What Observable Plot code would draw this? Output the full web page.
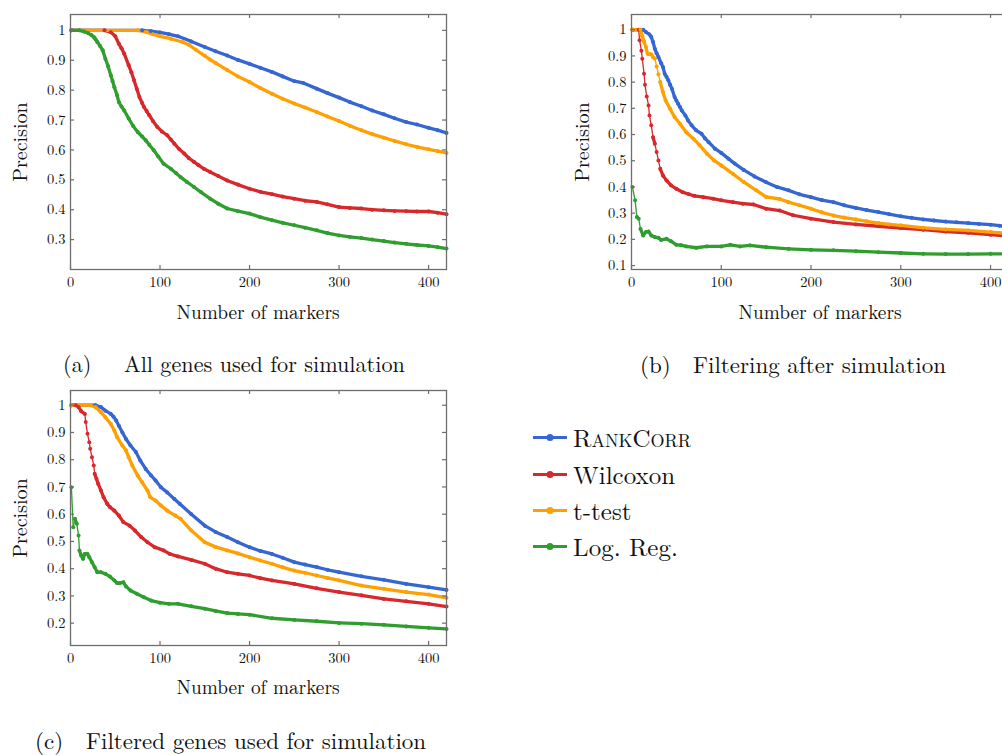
<!DOCTYPE html>
<html><head><meta charset="utf-8">
<script src="https://cdn.jsdelivr.net/npm/d3@7"></script>
<script src="https://cdn.jsdelivr.net/npm/@observablehq/plot@0.6"></script>
<style>
html,body{margin:0;padding:0;overflow:hidden;background:#fff;}
#root{position:relative;width:1002px;height:755px;font-family:"Latin Modern Roman","CMU Serif","Liberation Serif","DejaVu Serif","Tinos","Times New Roman","Times","Noto Serif","FreeSerif","Nimbus Roman",serif;color:#111;overflow:hidden;}
.panel{position:absolute;}
.lbl{position:absolute;white-space:nowrap;font-size:19.3px;line-height:1;transform:translate(-50%,-50%);}
.ylbl{font-size:20px;transform:translate(-50%,-50%) rotate(-90deg);}
.cap{position:absolute;white-space:nowrap;font-size:23px;line-height:1;transform:translateY(-50%);}
.leg{position:absolute;left:531px;white-space:nowrap;font-size:25px;line-height:1;display:flex;align-items:center;transform:translateY(-50%);}
.leg svg{margin-right:4px;}
</style>
</head><body><div id="root"></div>
<script>
const methods = ["RankCorr", "Wilcoxon", "t-test", "Log. Reg."];
const colors = ["#3566d2", "#d7282c", "#ffa000", "#2f9e2f"];
const xTicks = [0, 100, 200, 300, 400];
const serifStack = "'Latin Modern Roman','CMU Serif','Liberation Serif','DejaVu Serif','Tinos','Times New Roman','Times','Noto Serif','FreeSerif','Nimbus Roman',serif";

// (a) All genes used for simulation
const aRankCorr = [[1,1],[80,1],[90,0.997],[100,0.993],[110,0.987],[120,0.98],[135,0.963],[150,0.944],[162,0.93],[175,0.916],[187,0.901],[200,0.888],[212,0.875],[225,0.861],[237,0.846],[250,0.83],[260,0.824],[275,0.805],[287,0.79],[300,0.775],[312,0.76],[325,0.746],[337,0.732],[350,0.719],[362,0.706],[375,0.693],[387,0.685],[400,0.674],[410,0.666],[420,0.657]];
const aWilcoxon = [[1,1],[38,1],[45,0.994],[50,0.98],[54,0.955],[57,0.94],[60,0.922],[65,0.883],[68,0.86],[71,0.833],[74,0.805],[77,0.777],[80,0.757],[82,0.744],[85,0.73],[88,0.716],[92,0.697],[97,0.677],[102,0.662],[108,0.649],[112,0.635],[116,0.621],[121,0.604],[127,0.588],[132,0.573],[138,0.56],[143,0.549],[149,0.537],[156,0.526],[165,0.513],[175,0.498],[187,0.484],[200,0.47],[212,0.46],[225,0.452],[237,0.444],[250,0.437],[262,0.43],[275,0.426],[287,0.418],[300,0.409],[312,0.406],[325,0.404],[337,0.4],[350,0.398],[362,0.396],[375,0.395],[387,0.394],[400,0.394],[410,0.39],[420,0.385]];
const aTtest = [[1,1],[75,1],[85,0.994],[92,0.987],[100,0.98],[112,0.972],[125,0.961],[132,0.952],[140,0.935],[150,0.915],[156,0.902],[162,0.891],[175,0.867],[187,0.846],[200,0.827],[212,0.807],[225,0.788],[237,0.771],[250,0.755],[262,0.742],[275,0.727],[287,0.712],[300,0.697],[312,0.681],[325,0.666],[337,0.653],[350,0.641],[362,0.63],[375,0.619],[387,0.61],[400,0.602],[410,0.596],[420,0.59]];
const aLogReg = [[1,1],[10,1],[15,0.996],[20,0.99],[23,0.985],[26,0.978],[28,0.97],[30,0.961],[33,0.948],[36,0.933],[39,0.905],[42,0.88],[45,0.85],[47,0.83],[49,0.81],[52,0.783],[54,0.76],[57,0.745],[60,0.732],[65,0.705],[70,0.68],[75,0.66],[80,0.645],[84,0.632],[88,0.617],[93,0.599],[98,0.578],[104,0.554],[112,0.537],[118,0.522],[123,0.509],[130,0.493],[138,0.476],[146,0.458],[156,0.437],[165,0.42],[175,0.404],[187,0.395],[200,0.387],[212,0.375],[225,0.365],[237,0.356],[250,0.348],[262,0.34],[275,0.331],[287,0.322],[300,0.314],[312,0.309],[325,0.305],[337,0.3],[350,0.295],[362,0.29],[375,0.286],[387,0.282],[400,0.279],[410,0.275],[420,0.27]];

// (b) Filtering after simulation
const bRankCorr = [[1,1],[13,1],[16,0.991],[20,0.982],[22,0.972],[24,0.953],[26,0.927],[28,0.91],[30,0.896],[33,0.872],[35,0.858],[37,0.832],[39,0.82],[41,0.807],[43,0.79],[45,0.775],[48,0.743],[50,0.73],[52,0.717],[54,0.705],[56,0.692],[60,0.673],[63,0.654],[67,0.635],[72,0.616],[78,0.603],[82,0.585],[86,0.571],[93,0.546],[100,0.53],[108,0.508],[115,0.489],[125,0.465],[137,0.44],[150,0.418],[162,0.4],[175,0.387],[187,0.372],[200,0.361],[212,0.35],[225,0.342],[237,0.33],[250,0.32],[262,0.312],[275,0.304],[287,0.296],[300,0.288],[312,0.282],[325,0.276],[337,0.272],[350,0.268],[362,0.265],[375,0.262],[387,0.259],[400,0.256],[410,0.252],[420,0.248]];
const bWilcoxon = [[1,1],[8,1],[9,0.96],[11,0.92],[12,0.889],[14,0.832],[15,0.79],[17,0.745],[19,0.711],[20,0.673],[22,0.635],[24,0.59],[26,0.565],[28,0.533],[30,0.501],[32,0.469],[35,0.444],[39,0.425],[44,0.406],[50,0.393],[57,0.38],[64,0.372],[70,0.366],[80,0.361],[91,0.355],[100,0.349],[113,0.342],[124,0.336],[136,0.333],[150,0.317],[165,0.31],[180,0.292],[200,0.279],[225,0.266],[250,0.257],[275,0.25],[300,0.243],[325,0.237],[350,0.23],[375,0.225],[400,0.218],[420,0.212]];
const bTtest = [[1,1],[10,1],[12,0.975],[14,0.955],[16,0.934],[18,0.908],[20,0.906],[22,0.906],[24,0.895],[26,0.89],[28,0.86],[30,0.83],[32,0.8],[35,0.762],[38,0.73],[43,0.698],[48,0.667],[54,0.641],[61,0.609],[69,0.584],[76,0.559],[84,0.527],[92,0.501],[100,0.482],[113,0.45],[125,0.419],[139,0.387],[150,0.362],[165,0.354],[175,0.342],[187,0.33],[200,0.317],[212,0.303],[225,0.291],[237,0.283],[250,0.276],[262,0.269],[275,0.262],[287,0.257],[300,0.253],[325,0.244],[350,0.238],[375,0.234],[400,0.228],[420,0.222]];
const bLogReg = [[1,0.4],[4,0.349],[6,0.285],[8,0.279],[10,0.24],[13,0.215],[16,0.228],[19,0.23],[22,0.215],[26,0.209],[30,0.206],[33,0.198],[39,0.202],[44,0.193],[50,0.179],[55,0.178],[61,0.173],[72,0.168],[84,0.173],[100,0.173],[110,0.179],[121,0.173],[132,0.177],[150,0.17],[175,0.164],[200,0.16],[225,0.158],[250,0.155],[275,0.151],[300,0.148],[325,0.145],[350,0.144],[375,0.144],[400,0.145],[420,0.144]];

// (c) Filtered genes used for simulation
const cRankCorr = [[1,1],[28,1],[34,0.993],[39,0.98],[45,0.968],[48,0.958],[51,0.944],[54,0.925],[58,0.9],[62,0.876],[67,0.852],[73,0.828],[78,0.797],[84,0.766],[90,0.742],[95,0.724],[101,0.699],[108,0.68],[116,0.656],[122,0.638],[135,0.6],[150,0.558],[162,0.535],[175,0.516],[187,0.497],[200,0.479],[212,0.465],[225,0.454],[237,0.44],[250,0.424],[262,0.415],[275,0.406],[287,0.396],[300,0.387],[325,0.372],[350,0.359],[375,0.344],[400,0.332],[420,0.322]];
const cWilcoxon = [[1,1],[6,1],[9,0.993],[12,0.978],[16,0.968],[17,0.938],[19,0.895],[21,0.864],[22,0.84],[24,0.809],[26,0.779],[27,0.748],[29,0.73],[31,0.711],[34,0.687],[37,0.662],[41,0.638],[44,0.626],[49,0.613],[54,0.595],[59,0.571],[66,0.558],[72,0.54],[79,0.516],[86,0.497],[94,0.479],[104,0.467],[111,0.454],[120,0.445],[135,0.432],[150,0.418],[162,0.4],[175,0.387],[187,0.381],[200,0.375],[212,0.365],[225,0.357],[250,0.344],[275,0.328],[300,0.314],[325,0.302],[350,0.289],[375,0.28],[400,0.271],[420,0.261]];
const cTtest = [[1,1],[22,1],[28,0.993],[34,0.974],[39,0.956],[45,0.931],[49,0.907],[52,0.883],[58,0.852],[62,0.834],[65,0.809],[69,0.779],[75,0.742],[80,0.717],[86,0.687],[89,0.663],[95,0.65],[101,0.632],[108,0.613],[117,0.595],[123,0.583],[135,0.54],[150,0.497],[162,0.48],[175,0.467],[187,0.456],[200,0.442],[212,0.43],[225,0.418],[237,0.405],[250,0.393],[262,0.385],[275,0.375],[287,0.366],[300,0.357],[325,0.338],[350,0.326],[375,0.314],[400,0.305],[420,0.293]];
const cLogReg = [[1,0.699],[3,0.552],[5,0.583],[7,0.565],[9,0.522],[10,0.467],[12,0.448],[14,0.436],[16,0.454],[19,0.454],[21,0.442],[24,0.424],[27,0.405],[30,0.387],[34,0.387],[39,0.381],[44,0.371],[49,0.357],[52,0.347],[55,0.347],[59,0.35],[62,0.335],[67,0.32],[74,0.308],[82,0.295],[90,0.283],[100,0.275],[110,0.271],[120,0.271],[135,0.262],[150,0.253],[162,0.245],[175,0.237],[187,0.234],[200,0.231],[225,0.218],[250,0.212],[275,0.207],[300,0.201],[325,0.198],[350,0.194],[375,0.188],[400,0.183],[420,0.179]];

const yTicksA = [0.3, 0.4, 0.5, 0.6, 0.7, 0.8, 0.9, 1];
const yTicksB = [0.1, 0.2, 0.3, 0.4, 0.5, 0.6, 0.7, 0.8, 0.9, 1];
const yTicksC = [0.2, 0.3, 0.4, 0.5, 0.6, 0.7, 0.8, 0.9, 1];

const root = document.getElementById("root");

function makePanel({series, yDomain, yTicks, left, top, marginRight}) {
  const width = 460, height = 300, mL = 70, mT = 14, mB = 31;
  const frameW = width - mL - marginRight, frameH = height - mT - mB;
  const kx = frameW / 420, ky = frameH / (yDomain[1] - yDomain[0]);
  const segs = [], pts = [];
  series.forEach((arr, si) => {
    const name = methods[si];
    arr.forEach(([x, y], i) => {
      pts.push({x, y, name});
      if (i > 0) {
        const [x0, y0] = arr[i - 1];
        const slope = Math.abs(y - y0) / (x - x0);
        const step = Math.hypot(kx, slope * ky);
        segs.push({x1: x0, y1: y0, x2: x, y2: y, name, w: step < 3.6 ? 3.3 : 1.3});
      }
    });
  });
  const fmt = d => d === 1 ? "1" : d.toFixed(1);
  const gray = "#6e6e6e";
  const p = Plot.plot({
    width, height, marginLeft: mL, marginRight, marginTop: mT, marginBottom: mB,
    style: {fontFamily: serifStack, fontSize: "14.5px", color: "#111", background: "transparent"},
    x: {domain: [0, 420], label: null},
    y: {domain: yDomain, label: null},
    color: {domain: methods, range: colors},
    marks: [
      Plot.link(segs, {x1: "x1", y1: "y1", x2: "x2", y2: "y2", stroke: "name", strokeWidth: "w", strokeLinecap: "round"}),
      Plot.dot(pts, {x: "x", y: "y", r: 2, fill: "name", stroke: "none"}),
      Plot.tickX(xTicks, {x: d => d, insetTop: frameH - 4, stroke: gray, strokeWidth: 1.2}),
      Plot.tickX(xTicks, {x: d => d, insetBottom: frameH - 4, stroke: gray, strokeWidth: 1.2}),
      Plot.tickY(yTicks, {y: d => d, insetRight: frameW - 4, stroke: gray, strokeWidth: 1.2}),
      Plot.tickY(yTicks, {y: d => d, insetLeft: frameW - 4, stroke: gray, strokeWidth: 1.2}),
      Plot.frame({stroke: gray, strokeWidth: 1.3}),
      Plot.axisX(xTicks, {tickSize: 0, tickPadding: 7, label: null, fill: "#111"}),
      Plot.axisY(yTicks, {tickSize: 0, tickPadding: 5, tickFormat: fmt, label: null, fill: "#111"})
    ]
  });
  p.classList.add("panel");
  p.style.left = left + "px";
  p.style.top = top + "px";
  root.appendChild(p);
}

makePanel({series: [aRankCorr, aWilcoxon, aTtest, aLogReg], yDomain: [0.2, 1.053], yTicks: yTicksA, left: 0, top: 0, marginRight: 14});
makePanel({series: [bRankCorr, bWilcoxon, bTtest, bLogReg], yDomain: [0.085, 1.058], yTicks: yTicksB, left: 561, top: 0, marginRight: 13});
makePanel({series: [cRankCorr, cWilcoxon, cTtest, cLogReg], yDomain: [0.118, 1.054], yTicks: yTicksC, left: 0, top: 376, marginRight: 14});

function addText(cls, text, x, y, html, size) {
  const d = document.createElement("div");
  d.className = cls;
  if (html) d.innerHTML = text; else d.textContent = text;
  d.style.left = x + "px";
  d.style.top = y + "px";
  if (size) d.style.fontSize = size + "px";
  root.appendChild(d);
  return d;
}
// axis titles
addText("lbl ylbl", "Precision", 19, 141.5);
addText("lbl ylbl", "Precision", 581, 141.5);
addText("lbl ylbl", "Precision", 19, 517.5);
addText("lbl", "Number of markers", 258, 312);
addText("lbl", "Number of markers", 820, 312);
addText("lbl", "Number of markers", 258, 687);
// captions
addText("cap", "(a)", 63, 363, false, 22.2);
addText("cap", "All genes used for simulation", 124, 363, false, 22.2);
addText("cap", "(b)", 640, 363);
addText("cap", "Filtering after simulation", 693, 363);
addText("cap", "(c)", 35, 738.5);
addText("cap", "Filtered genes used for simulation", 86, 738.5);
// legend
const legY = [435.5, 472.5, 508.5, 544.5];
methods.forEach((m, i) => {
  const label = m === "RankCorr" ? '<span style="font-variant:small-caps">RankCorr</span>' : m;
  const sw = `<svg width="38" height="10" style="position:relative;top:2px"><line x1="2" y1="5" x2="36" y2="5" stroke="${colors[i]}" stroke-width="3"/><circle cx="19" cy="5" r="3.5" fill="${colors[i]}"/></svg>`;
  addText("leg", sw + "<span>" + label + "</span>", 531, legY[i], true);
});
</script>
</body></html>
